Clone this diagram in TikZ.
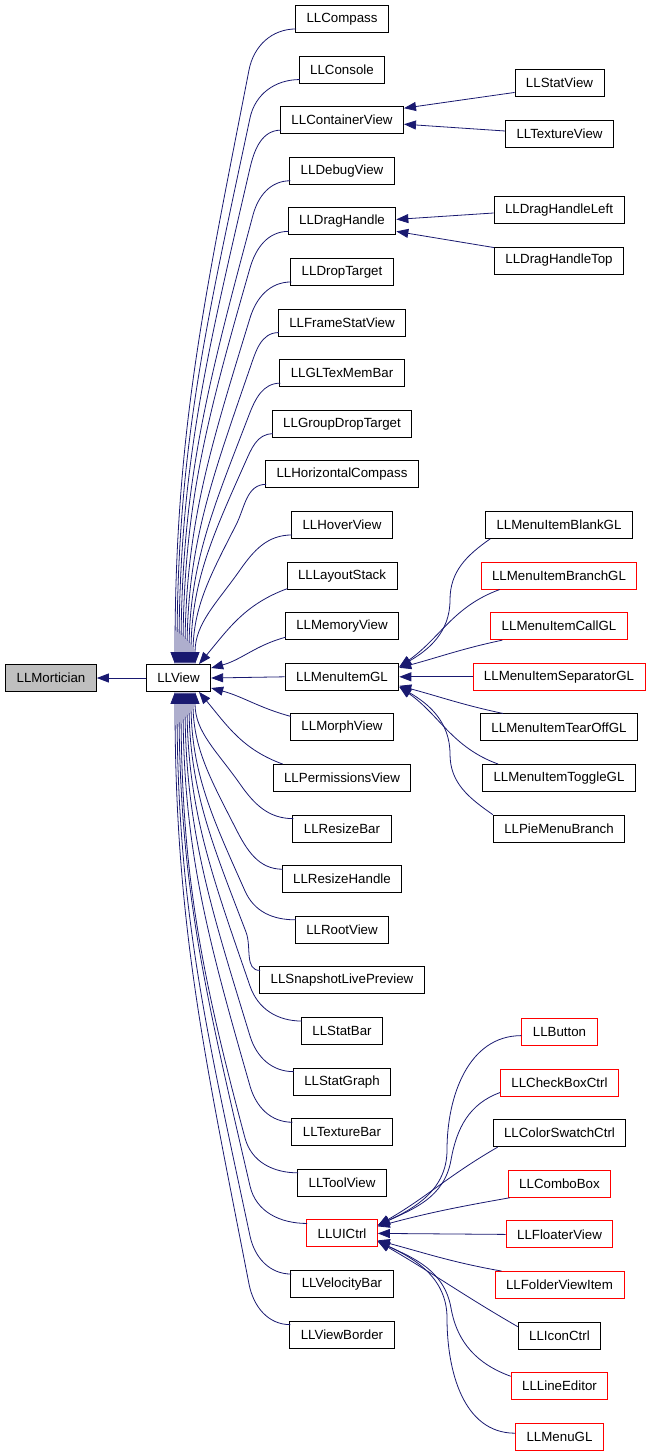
\documentclass[tikz,border=0pt]{standalone}
\usepackage{fontspec}
\setmainfont{Liberation Sans}
\usetikzlibrary{arrows.meta,calc}
\definecolor{mblue}{RGB}{25,25,112}
\definecolor{mgray}{RGB}{191,191,191}
\begin{document}
\begin{tikzpicture}[x=1pt,y=1pt,
 box/.style={draw=black, line width=0.9pt, fill=white, minimum height=27pt, inner xsep=11pt, inner ysep=0pt, font=\fontsize{13.3}{15}\selectfont},
 rbox/.style={box, draw=red},
 gbox/.style={box, fill=mgray},
 conn/.style={draw=mblue, line width=0.8pt, -{Triangle[length=12pt,width=9pt]}}]
\useasboundingbox (0,0) rectangle (651,-1456);

% left
\node[gbox] (mort) at (51,-678) {LLMortician};
\node[box] (view) at (178.5,-678) {LLView};

% middle column
\node[box] (compass)   at (342,-19)    {LLCompass};
\node[box] (console)   at (342,-69.6)  {LLConsole};
\node[box] (container) at (342,-120.2) {LLContainerView};
\node[box] (debug)     at (342,-170.8) {LLDebugView};
\node[box] (drag)      at (342,-221.4) {LLDragHandle};
\node[box] (drop)      at (342,-272)   {LLDropTarget};
\node[box] (frame)     at (342,-322.6) {LLFrameStatView};
\node[box] (gltex)     at (342,-373.2) {LLGLTexMemBar};
\node[box] (group)     at (342,-423.8) {LLGroupDropTarget};
\node[box] (hcompass)  at (342,-474.4) {LLHorizontalCompass};
\node[box] (hover)     at (342,-525)   {LLHoverView};
\node[box] (layout)    at (342,-575.6) {LLLayoutStack};
\node[box] (memory)    at (342,-626.2) {LLMemoryView};
\node[box] (menuitem)  at (342,-676.8) {LLMenuItemGL};
\node[box] (morph)     at (342,-727.4) {LLMorphView};
\node[box] (perm)      at (342,-778)   {LLPermissionsView};
\node[box] (rbar)      at (342,-828.6) {LLResizeBar};
\node[box] (rhandle)   at (342,-879.2) {LLResizeHandle};
\node[box] (root)      at (342,-929.8) {LLRootView};
\node[box] (snapshot)  at (342,-980.4) {LLSnapshotLivePreview};
\node[box] (statbar)   at (342,-1031)  {LLStatBar};
\node[box] (statgraph) at (342,-1081.6) {LLStatGraph};
\node[box] (texbar)    at (342,-1132.2) {LLTextureBar};
\node[box] (tool)      at (342,-1182.8) {LLToolView};
\node[rbox] (uictrl)   at (342,-1233.4) {LLUICtrl};
\node[box] (velocity)  at (342,-1284)  {LLVelocityBar};
\node[box] (border)    at (342,-1334.6) {LLViewBorder};

% right column
\node[box] (statview) at (559.5,-82.5)  {LLStatView};
\node[box] (texview)  at (559.5,-133.5) {LLTextureView};
\node[box] (dragleft) at (559,-210)     {LLDragHandleLeft};
\node[box] (dragtop)  at (559,-260.5)   {LLDragHandleTop};

\node[box]  (blank)   at (559,-525)    {LLMenuItemBlankGL};
\node[rbox] (branch)  at (559,-575.6)  {LLMenuItemBranchGL};
\node[rbox] (call)    at (559,-626.2)  {LLMenuItemCallGL};
\node[rbox] (sep)     at (559,-676.8)  {LLMenuItemSeparatorGL};
\node[box]  (tearoff) at (559,-727.4)  {LLMenuItemTearOffGL};
\node[box]  (toggle)  at (559,-778)    {LLMenuItemToggleGL};
\node[box]  (pie)     at (559,-828.6)  {LLPieMenuBranch};

\node[rbox] (button)   at (559.5,-1031.6) {LLButton};
\node[rbox] (checkbox) at (559.5,-1082.6) {LLCheckBoxCtrl};
\node[box]  (swatch)   at (559.5,-1133.2) {LLColorSwatchCtrl};
\node[rbox] (combo)    at (559.5,-1183.8) {LLComboBox};
\node[rbox] (floater)  at (559.5,-1234.4) {LLFloaterView};
\node[rbox] (folder)   at (559.5,-1285)   {LLFolderViewItem};
\node[box]  (icon)     at (559.5,-1335.6) {LLIconCtrl};
\node[rbox] (lineedit) at (559.5,-1386.2) {LLLineEditor};
\node[rbox] (menugl)   at (559.5,-1437.2) {LLMenuGL};

% edges
\draw[conn] (view.west) -- (mort.east);
\draw[conn] (menuitem.west) -- (view.east);

\foreach \n/\px/\py/\a/\b/\tx in {compass/249/70/79/259/-3.5, console/250/118/78/258/-1.5,
  container/250/168/77/257/0.5, debug/253/215/75/255/2.5, drag/250/268/74/254/4.5,
  drop/250/318/73/253/6.5, frame/250/368/71/251/8.5, gltex/249/415/69/249/10.5,
  group/245/463/66/246/12.5, hcompass/236/525/63/243/14.5, hover/240/570/55/235/16.5}
  \draw[conn] ($(\n.south west)+(1,4)$) to[out=180,in=\a] (\px,-\py) to[out=\b,in=90] ($(view.north)+(\tx,0)$);

\foreach \n/\px/\py/\a/\b/\tx in {border/249/1284/79/259/-3.5, velocity/250/1236/78/258/-1.5,
  uictrl/250/1186/77/257/0.5, tool/245/1138/75/255/2.5, texbar/250/1086/74/254/4.5,
  statgraph/250/1036/73/253/6.5, statbar/250/986/71/251/8.5, snapshot/246/932/69/249/10.5,
  root/245/891/66/246/12.5, rhandle/236/829/63/243/14.5, rbar/240/784/55/235/16.5}
  \draw[conn] ($(\n.north west)+(1,-4)$) to[out=180,in=-\a] (\px,-\py) to[out=-\b,in=-90] ($(view.south)+(\tx,0)$);

\draw[conn] ($(layout.south west)+(1,1)$) to[out=200,in=50] ($(view.north)+(20.5,0)$);
\draw[conn] ($(perm.north west)+(10,0)$) to[out=160,in=-50] ($(view.south)+(20.5,0)$);
\draw[conn] ($(memory.south west)+(1,3)$) to[out=195,in=15] ($(view.east)+(0,10)$);
\draw[conn] ($(morph.north west)+(1,-3)$) to[out=165,in=-15] ($(view.east)+(0,-10)$);

% container / drag handle children
\draw[conn] ($(statview.south west)+(0,4)$) -- ($(container.east)+(0,12)$);
\draw[conn] ($(texview.west)+(0,2.5)$) -- ($(container.east)+(0,-4)$);
\draw[conn] ($(dragleft.west)+(0,-3)$) -- ($(drag.east)+(0,2)$);
\draw[conn] ($(dragtop.north west)+(0,-1)$) -- ($(drag.east)+(0,-10)$);

% menu item children
\draw[conn] ($(blank.south west)+(5,0)$) to[out=215,in=90] (450,-600) to[out=270,in=30] ($(menuitem.east)+(0,10)$);
\draw[conn] ($(branch.south west)+(19,0)$) to[out=200,in=35] ($(menuitem.east)+(0,10)$);
\draw[conn] ($(call.south west)+(12,0)$) to[out=192,in=15] ($(menuitem.east)+(0,9)$);
\draw[conn] (sep.west) -- (menuitem.east);
\draw[conn] ($(tearoff.north west)+(23,0)$) to[out=168,in=-15] ($(menuitem.east)+(0,-9)$);
\draw[conn] ($(toggle.north west)+(16,0)$) to[out=160,in=-35] ($(menuitem.east)+(0,-10)$);
\draw[conn] ($(pie.north west)+(0,0)$) to[out=145,in=-90] (450,-754) to[out=90,in=-30] ($(menuitem.east)+(0,-10)$);

% ui ctrl children
\draw[conn] ($(button.west)+(0,-4)$) to[out=180,in=90] (447,-1150) to[out=270,in=25] ($(uictrl.east)+(0,8)$);
\draw[conn] ($(checkbox.south west)+(0,4)$) to[out=200,in=80] (451,-1160) to[out=260,in=25] ($(uictrl.east)+(0,8)$);
\draw[conn] ($(swatch.south west)+(5,0)$) to[out=210,in=30] ($(uictrl.east)+(0,8)$);
\draw[conn] ($(combo.south west)+(2,0)$) to[out=190,in=15] ($(uictrl.east)+(0,7)$);
\draw[conn] (floater.west) -- (uictrl.east);
\draw[conn] ($(folder.north west)+(7,0)$) to[out=170,in=-15] ($(uictrl.east)+(0,-7)$);
\draw[conn] ($(icon.north west)+(0,-5)$) to[out=150,in=-30] ($(uictrl.east)+(0,-8)$);
\draw[conn] ($(lineedit.north west)+(0,-4)$) to[out=160,in=-80] (451,-1308) to[out=100,in=-25] ($(uictrl.east)+(0,-8)$);
\draw[conn] ($(menugl.west)+(0,4)$) to[out=180,in=-90] (447,-1318) to[out=90,in=-25] ($(uictrl.east)+(0,-8)$);
\end{tikzpicture}
\end{document}
